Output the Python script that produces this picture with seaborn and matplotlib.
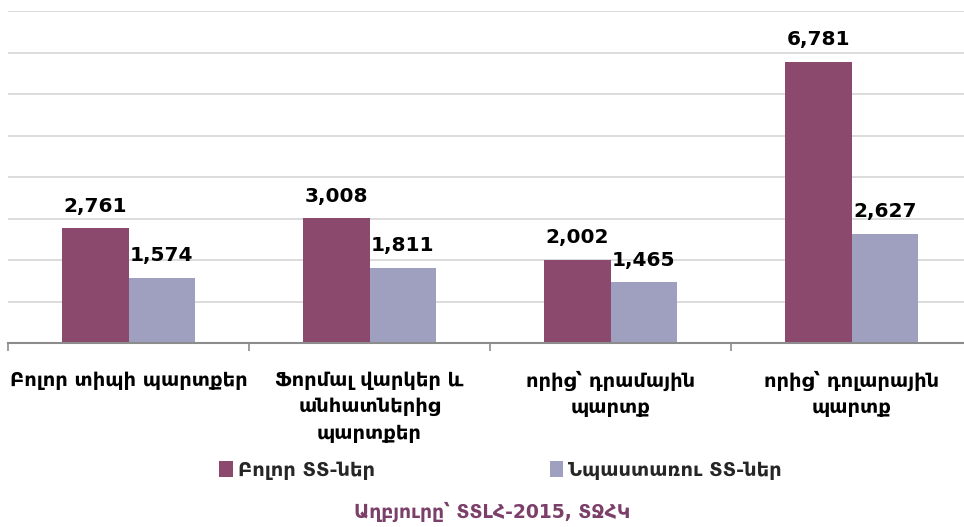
import matplotlib
matplotlib.use("Agg")
import matplotlib.pyplot as plt
import seaborn as sns
import pandas as pd
from matplotlib.patches import Patch

categories = ["Բոլոր տիպի պարտքեր",
              "Ֆորմալ վարկեր և\nանհատներից\nպարտքեր",
              "որից՝ դրամային\nպարտք",
              "որից՝ դոլարային\nպարտք"]
series_names = ["Բոլոր ՏՏ-ներ", "Նպաստառու ՏՏ-ներ"]
all_hh = [2761, 3008, 2002, 6781]
beneficiary_hh = [1574, 1811, 1465, 2627]
source_text = "Աղբյուրը՝ ՏՏԼՀ-2015, ՏՋՀԿ"

colors = ["#8B496D", "#9FA0BF"]

df = pd.DataFrame({
    "category": categories * 2,
    "series": [series_names[0]] * 4 + [series_names[1]] * 4,
    "value": all_hh + beneficiary_hh,
})

sns.set_theme(style="white")
plt.rcParams["font.family"] = ["DejaVu Sans"]

fig = plt.figure(figsize=(9.64, 5.27), dpi=100)
ax = fig.add_axes([8 / 964, (527 - 343) / 527, 964 / 964, (343 - 11) / 527])

sns.barplot(data=df, x="category", y="value", hue="series", palette=colors,
            width=0.55, saturation=1, ax=ax, legend=False, linewidth=0)

ax.set_ylim(0, 8000)
ax.set_xlim(-0.5, 3.5)
ax.set_yticks(range(0, 8001, 1000))
ax.yaxis.grid(True, color="#D9D9D9", linewidth=1.3)
ax.set_axisbelow(True)
ax.tick_params(axis="y", left=False, labelleft=False)
for s in ["top", "right", "left"]:
    ax.spines[s].set_visible(False)
ax.spines["bottom"].set_color("#8C8C8C")
ax.spines["bottom"].set_linewidth(1.5)

ax.set_xlabel("")
ax.set_ylabel("")
ax.set_xticks(range(len(categories)))
ax.set_xticklabels(categories, fontsize=14, fontweight="bold", color="#000000",
                   linespacing=1.5, va="top")
ax.tick_params(axis="x", which="major", length=0, pad=20)
ax.set_xticks([-0.5, 0.5, 1.5, 2.5, 3.5], minor=True)
ax.tick_params(axis="x", which="minor", length=6, width=1.2, color="#8C8C8C",
               direction="out", bottom=True)

for cont in ax.containers:
    ax.bar_label(cont, labels=[f"{v:,.0f}" for v in cont.datavalues],
                 padding=9, fontsize=14.5, fontweight="bold", color="#000000")

handles = [Patch(facecolor=c, edgecolor="none") for c in colors]
fig.legend(handles, series_names, loc="center", bbox_to_anchor=(0.519, 1 - 470 / 527),
           ncol=2, frameon=False, prop={"size": 14, "weight": "bold"},
           handlelength=0.7, handleheight=0.9, handletextpad=0.25, columnspacing=9.0)

fig.text(0.51, 1 - 512 / 527, source_text, ha="center", va="center",
         fontsize=13.5, fontweight="bold", color="#7B3F6A")

fig.savefig("out.png", dpi=100)
